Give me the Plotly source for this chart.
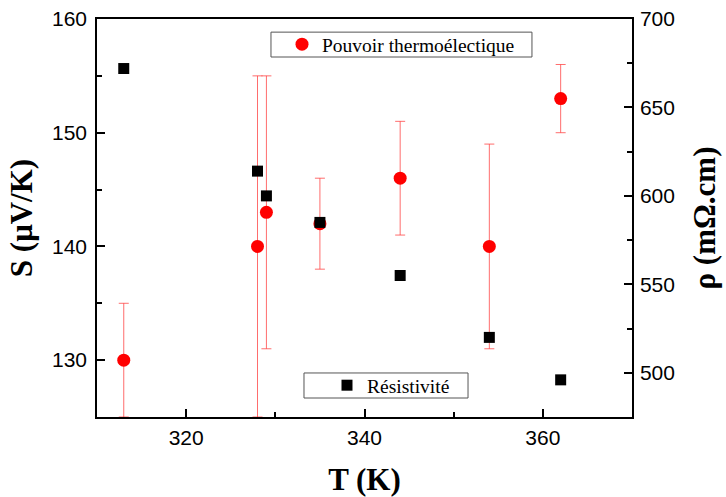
import plotly.graph_objects as go

T = [313, 328, 329, 335, 344, 354, 362]
S = [130, 140, 143, 142, 146, 140, 153]
S_err = [5, 15, 12, 4, 5, 9, 3]
rho = [672, 614, 600, 585, 555, 520, 496]

S_ticks = [130, 140, 150, 160]
rho_ticks = [500, 550, 600, 650, 700]
T_ticks = [320, 340, 360]

fig = go.Figure()
fig.add_trace(go.Scatter(
    x=T, y=S, mode="markers", name="Pouvoir thermoélectique",
    marker=dict(symbol="circle", size=13, color="#ff0000"),
    error_y=dict(type="data", array=S_err, visible=True,
                 color="rgba(255,60,60,0.75)", thickness=1, width=5),
    legend="legend", yaxis="y",
))
fig.add_trace(go.Scatter(
    x=T, y=rho, mode="markers", name="Résistivité",
    marker=dict(symbol="square", size=11, color="#000000"),
    legend="legend2", yaxis="y2",
))

axis_common = dict(
    showline=True, linecolor="black", linewidth=1.5,
    ticks="inside", ticklen=8, tickwidth=1.5, tickcolor="black",
    showgrid=False, zeroline=False, automargin=False, ticklabeloverflow="allow",
    tickfont=dict(family="Liberation Sans, Arial", size=21, color="black"),
)
title_font = dict(family="Liberation Serif, Times New Roman", size=31, color="black")
legend_font = dict(family="Liberation Serif, Times New Roman", size=19.5, color="black")

# legend frames (paper coordinates)
frames = [
    dict(x0=0.3252, x1=0.813, y0=0.9045, y1=0.967),
    dict(x0=0.3869, x1=0.6935, y0=0.0477, y1=0.1106),
]
shapes = [dict(type="rect", xref="paper", yref="paper", line=dict(color="#555555", width=1),
               fillcolor="rgba(0,0,0,0)", layer="below", **f) for f in frames]

fig.update_layout(
    width=726, height=497,
    margin=dict(l=97, r=94, t=19, b=80),
    paper_bgcolor="white", plot_bgcolor="white",
    showlegend=True,
    shapes=shapes,
    xaxis=dict(
        range=[310, 370], tickvals=T_ticks, mirror=True, ticklabelstandoff=1,
        minor=dict(dtick=10, tick0=310, ticks="inside", ticklen=5, tickwidth=1.5, tickcolor="black"),
        title=dict(text="<b>T (K)</b>", standoff=24, font=title_font),
        **axis_common,
    ),
    yaxis=dict(
        range=[125, 160], tickvals=S_ticks, ticklabelstandoff=4,
        minor=dict(dtick=5, tick0=125, ticks="inside", ticklen=5, tickwidth=1.5, tickcolor="black"),
        title=dict(text="<b>S (μV/K)</b>", standoff=10, font=title_font),
        **axis_common,
    ),
    yaxis2=dict(
        range=[475, 700], tickvals=rho_ticks, overlaying="y", side="right", ticklabelstandoff=2,
        minor=dict(dtick=25, tick0=475, ticks="inside", ticklen=5, tickwidth=1.5, tickcolor="black"),
        title=dict(text="<b>ρ (mΩ.cm)</b>", standoff=19, font=title_font),
        **axis_common,
    ),
    legend=dict(
        x=0.3458, y=0.936, xanchor="left", yanchor="middle",
        borderwidth=0, bgcolor="rgba(0,0,0,0)", font=legend_font,
    ),
    legend2=dict(
        x=0.4299, y=0.0791, xanchor="left", yanchor="middle",
        borderwidth=0, bgcolor="rgba(0,0,0,0)", font=legend_font,
    ),
)

fig.write_html(
    "out.html",
    config={"displayModeBar": False},
    post_script="document.body.style.margin='0';document.body.style.overflow='hidden';",
)
